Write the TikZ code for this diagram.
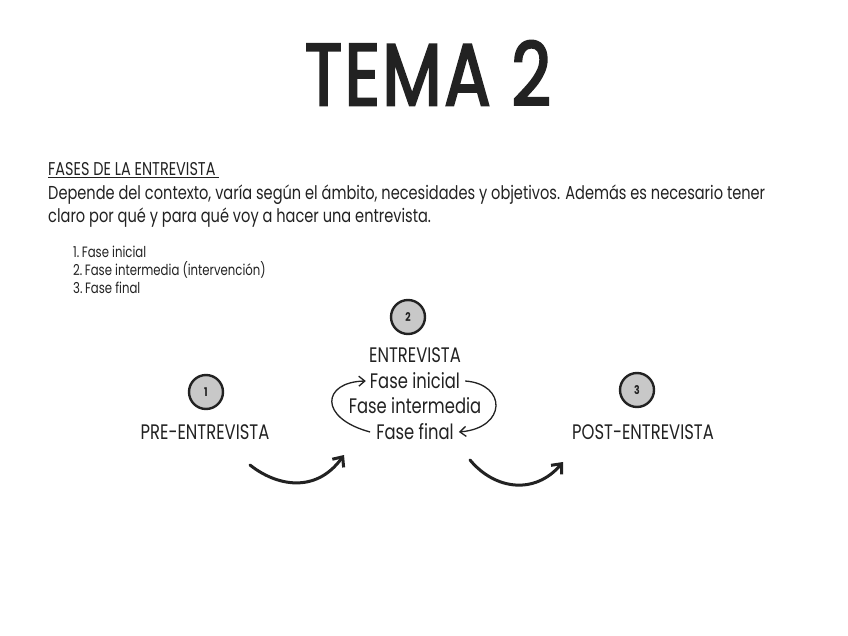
\documentclass[tikz,border=0pt]{standalone}
\usepackage{fontspec}
\setmainfont[FakeStretch=0.78]{Poppins}
\newfontfamily\titlefont[FakeStretch=0.78, FakeBold=2.5, LetterSpace=3]{Poppins}
\usepackage{xcolor}
\usetikzlibrary{arrows.meta}
\definecolor{inkgray}{HTML}{222222}
\definecolor{dotgray}{HTML}{C8C8C8}

\tikzset{
	stepdot/.style={circle, draw=inkgray, fill=dotgray, line width=2.4pt,
		minimum size=34pt, inner sep=0pt, font=\fontsize{12}{12}\selectfont\bfseries},
	phase/.style={font=\fontsize{21}{21}\selectfont, text=inkgray, inner sep=0pt},
	cycle/.style={line width=1.3pt, -{Straight Barb[length=6pt,width=10pt]}},
	bigarrow/.style={line width=3pt, line cap=round, -{Straight Barb[length=8pt,width=14pt,line width=3pt]}}
}

\begin{document}
\begin{tikzpicture}[x=1pt, y=-1pt, inkgray]
		\useasboundingbox[fill=white] (0,0) rectangle (848,636);
		
		% title
		\node[font=\fontsize{88}{88}\titlefont, inner sep=0pt] (title) at (428,73) {TEMA 2};
		
		% text block
		\begin{scope}[every node/.style={anchor=base west, inner sep=0pt}]
			\node[font=\fontsize{18.5}{18.5}\selectfont] (head) at (48,176) {\underline{FASES DE LA ENTREVISTA\ }};
			\node[font=\fontsize{18.7}{18.7}\selectfont] (par1) at (48,200) {Depende del contexto, varía según el ámbito, necesidades y objetivos. Además es necesario tener};
			\node[font=\fontsize{18.7}{18.7}\selectfont] (par2) at (48,223) {claro por qué y para qué voy a hacer una entrevista.};
			\foreach \n/\txt/\y in {1/Fase inicial/258, 2/Fase intermedia (intervención)/275, 3/Fase final/293} {
				\node[font=\fontsize{15}{15}\selectfont] (list\n) at (73,\y) {\n.\,\txt};
			}
		\end{scope}
		
		% phases
		\node[stepdot] (d1) at (206,392) {1};
		\node[stepdot] (d2) at (408,317) {2};
		\node[stepdot] (d3) at (637,390) {3};
		\node[phase] (pre) at (205,432) {PRE-ENTREVISTA};
		\node[phase] (entr) at (415,355) {ENTREVISTA};
		\node[phase] (ini) at (415,381) {Fase inicial};
		\node[phase] (inter) at (415,406) {Fase intermedia};
		\node[phase] (fin) at (415,432) {Fase final};
		\node[phase] (post) at (643,432) {POST-ENTREVISTA};
		
		% inner cycle
		\draw[cycle] ([xshift=-6pt]fin.west) .. controls (318,418) and (322,382) .. ([xshift=-4pt]ini.west);
		\draw[cycle] ([xshift=5pt]ini.east) .. controls (507,384) and (507,428) .. ([xshift=5pt]fin.east);
		
		% big arrows
		\coordinate (a1) at (250,465);
		\coordinate (b1) at (344,455);
		\coordinate (a2) at (470,460);
		\coordinate (b2) at (563,462);
		\draw[bigarrow] (a1) .. controls (275,485) and (315,495) .. (b1);
		\draw[bigarrow] (a2) .. controls (495,490) and (535,495) .. (b2);
		
	\end{tikzpicture}
\end{document}
